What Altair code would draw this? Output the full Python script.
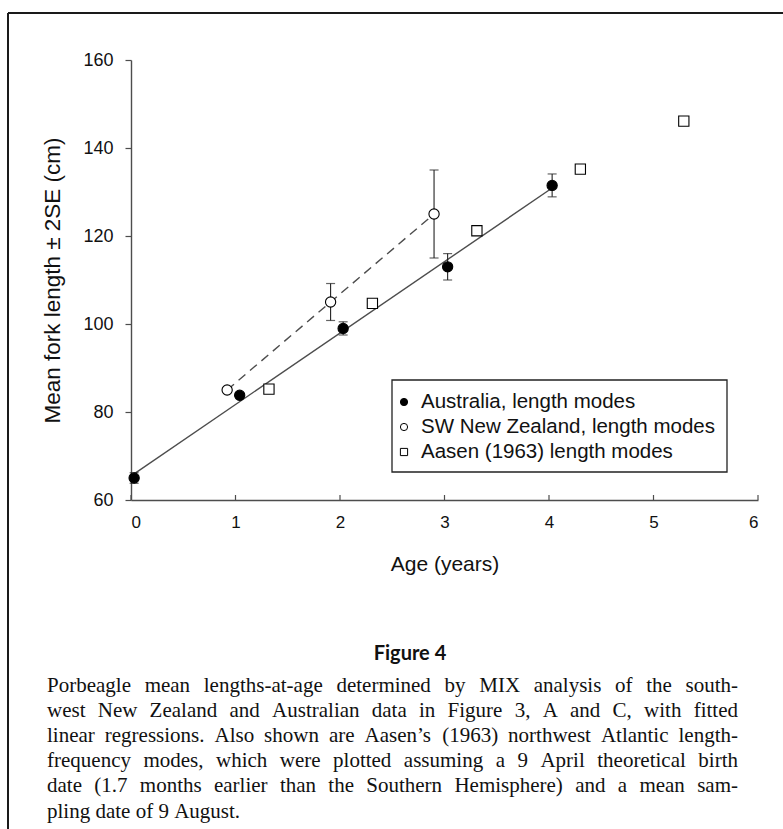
import altair as alt
import pandas as pd

# ---- data -------------------------------------------------------------
series_names = [
    "Australia, length modes",
    "SW New Zealand, length modes",
    "Aasen (1963) length modes",
]

# Australian length modes (MIX analysis), mean FL and 2SE
aus_age = [0.03, 1.04, 2.03, 3.03, 4.03]
aus_len = [65.0, 83.8, 99.0, 113.0, 131.5]
aus_2se = [1.2, 0.6, 1.5, 3.0, 2.6]

# SW New Zealand length modes
nz_age = [0.92, 1.91, 2.90]
nz_len = [85.0, 105.0, 125.0]
nz_2se = [0.0, 4.2, 10.0]

# Aasen (1963) northwest Atlantic length-frequency modes
aasen_age = [1.32, 2.31, 3.31, 4.30, 5.29]
aasen_len = [85.2, 104.7, 121.2, 135.2, 146.1]

x_ticks = [0, 1, 2, 3, 4, 5, 6]
y_ticks = [60, 80, 100, 120, 140, 160]

fig_label = "Figure 4"
caption_lines = [
    "Porbeagle mean lengths-at-age determined by MIX analysis of the south-",
    "west New Zealand and Australian data in Figure 3, A and C, with fitted",
    "linear regressions. Also shown are Aasen\u2019s (1963) northwest Atlantic length-",
    "frequency modes, which were plotted assuming a 9 April theoretical birth",
    "date (1.7 months earlier than the Southern Hemisphere) and a mean sam-",
    "pling date of 9 August.",
]

# ---- tables -----------------------------------------------------------
aus_df = pd.DataFrame({"age": aus_age, "length": aus_len, "se2": aus_2se,
                       "series": series_names[0]})
nz_df = pd.DataFrame({"age": nz_age, "length": nz_len, "se2": nz_2se,
                      "series": series_names[1]})
aasen_df = pd.DataFrame({"age": aasen_age, "length": aasen_len,
                         "series": series_names[2]})
points_df = pd.concat([aasen_df, nz_df, aus_df], ignore_index=True)

err_df = pd.concat([aus_df, nz_df], ignore_index=True)
err_df = err_df[err_df["se2"] > 0].copy()
err_df["lo"] = err_df["length"] - err_df["se2"]
err_df["hi"] = err_df["length"] + err_df["se2"]

tick_df = pd.DataFrame({"t": x_ticks})
legend_df = pd.DataFrame({"series": series_names})

# ---- layout -----------------------------------------------------------
W, H = 627, 440
PAD = {"left": 131, "top": 60, "right": 25, "bottom": 329}
SANS = "Liberation Sans"
SERIF = "Liberation Serif"
INK = "#111111"
LINE = "#4d4d4d"

xs = alt.Scale(domain=[0, 6], nice=False, zero=False)
ys = alt.Scale(domain=[60, 160], nice=False, zero=False)
shape_scale = alt.Scale(domain=series_names, range=["circle", "circle", "square"])
fill_scale = alt.Scale(domain=series_names, range=["black", "white", "white"])

x_axis = alt.Axis(values=x_ticks, format="d", tickSize=0, labelPadding=14,
                  grid=False, domainColor=LINE, domainWidth=1.4,
                  labelFont=SANS, labelFontSize=17, labelColor=INK,
                  title="Age (years)", titleFont=SANS, titleFontSize=21,
                  titleFontWeight="normal", titleColor=INK, titlePadding=23)
y_axis = alt.Axis(values=y_ticks, format="d", tickSize=6, tickColor=LINE,
                  tickWidth=1.2, labelPadding=12, grid=False,
                  domainColor=LINE, domainWidth=1.4, labelFont=SANS,
                  labelFontSize=18, labelColor=INK,
                  title="Mean fork length \u00b1 2SE (cm)",
                  titleFont=SANS, titleFontSize=22.5, titleFontWeight="normal",
                  titleColor=INK, titlePadding=18)

# fitted linear regressions
aus_fit = alt.Chart(aus_df).transform_regression("age", "length").mark_line(
    color=LINE, strokeWidth=1.4
).encode(x=alt.X("age:Q", scale=xs), y=alt.Y("length:Q", scale=ys))

nz_fit = alt.Chart(nz_df).transform_regression("age", "length").mark_line(
    color=LINE, strokeWidth=1.4, strokeDash=[9, 6]
).encode(x=alt.X("age:Q", scale=xs), y=alt.Y("length:Q", scale=ys))

# +/- 2SE error bars with caps
err_bars = alt.Chart(err_df).mark_rule(color="#222222", strokeWidth=1.1).encode(
    x=alt.X("age:Q", scale=xs), y=alt.Y("lo:Q", scale=ys), y2="hi:Q")
cap_lo = alt.Chart(err_df).mark_tick(color="#222222", thickness=1.2, size=9,
                                     orient="horizontal").encode(
    x=alt.X("age:Q", scale=xs), y=alt.Y("lo:Q", scale=ys))
cap_hi = alt.Chart(err_df).mark_tick(color="#222222", thickness=1.2, size=9,
                                     orient="horizontal").encode(
    x=alt.X("age:Q", scale=xs), y=alt.Y("hi:Q", scale=ys))

# x-axis ticks pointing into the plot
in_ticks = alt.Chart(tick_df).mark_rule(color=LINE, strokeWidth=1.2).encode(
    x=alt.X("t:Q", scale=xs), y=alt.value(H), y2=alt.value(H - 5))

points = alt.Chart(points_df).mark_point(filled=True, opacity=1, size=105,
                                         strokeWidth=1.1).encode(
    x=alt.X("age:Q", scale=xs, axis=x_axis),
    y=alt.Y("length:Q", scale=ys, axis=y_axis),
    shape=alt.Shape("series:N", scale=shape_scale, legend=None),
    fill=alt.Fill("series:N", scale=fill_scale, legend=None),
    stroke=alt.value("black"),
)

plot = alt.layer(aus_fit, nz_fit, err_bars, cap_lo, cap_hi, in_ticks, points)

# ---- legend box (drawn in pixel space) --------------------------------
LEG_X0, LEG_X1 = 392 - PAD["left"], 727 - PAD["left"]
LEG_Y0, LEG_Y1 = 380 - PAD["top"], 472 - PAD["top"]
leg_rows = alt.Scale(type="point", domain=series_names,
                     range=[402 - PAD["top"], 452 - PAD["top"]], padding=0)

leg_box = alt.Chart(pd.DataFrame({"k": [0]})).mark_rect(
    fill="white", stroke="#222222", strokeWidth=1.3
).encode(x=alt.value(LEG_X0), x2=alt.value(LEG_X1),
         y=alt.value(LEG_Y0), y2=alt.value(LEG_Y1))
leg_sym = alt.Chart(legend_df).mark_point(
    filled=True, opacity=1, size=52, strokeWidth=1.0
).encode(
    x=alt.value(404 - PAD["left"]),
    y=alt.Y("series:N", scale=leg_rows, axis=None),
    shape=alt.Shape("series:N", scale=shape_scale, legend=None),
    fill=alt.Fill("series:N", scale=fill_scale, legend=None),
    stroke=alt.value("black"),
)
leg_txt = alt.Chart(legend_df).mark_text(
    font=SANS, fontSize=20.5, align="left", baseline="middle", color=INK
).encode(
    x=alt.value(421 - PAD["left"]),
    y=alt.Y("series:N", scale=leg_rows, axis=None),
    text="series:N",
)

# ---- caption: justified serif text --------------------------------------
TIMES_W = {
    " ": 250, "!": 333, "(": 333, ")": 333, ",": 250, "-": 333, ".": 250,
    "\u2019": 333, "'": 180, ":": 278, ";": 278,
    "A": 722, "B": 667, "C": 667, "D": 722, "E": 611, "F": 556, "G": 722,
    "H": 722, "I": 333, "J": 389, "K": 722, "L": 611, "M": 889, "N": 722,
    "O": 722, "P": 556, "Q": 722, "R": 667, "S": 556, "T": 611, "U": 722,
    "V": 722, "W": 944, "X": 722, "Y": 722, "Z": 611,
    "a": 444, "b": 500, "c": 444, "d": 500, "e": 444, "f": 333, "g": 500,
    "h": 500, "i": 278, "j": 278, "k": 500, "l": 278, "m": 778, "n": 500,
    "o": 500, "p": 500, "q": 500, "r": 333, "s": 389, "t": 278, "u": 500,
    "v": 500, "w": 722, "x": 500, "y": 500, "z": 444,
}


def em_width(s):
    return sum(TIMES_W.get(c, 500) for c in s) / 1000.0


CAP_LEFT, CAP_RIGHT = 47 - PAD["left"], 738 - PAD["left"]
CAP_TOP, CAP_STEP, CAP_FS = 686 - PAD["top"], 25.1, 21.0
words = []
for i, line in enumerate(caption_lines):
    toks = line.split(" ")
    ems = [em_width(t) for t in toks]
    gaps = len(toks) - 1
    fs = CAP_FS
    last = i == len(caption_lines) - 1
    if not last:
        fit = (CAP_RIGHT - CAP_LEFT) / (sum(ems) + 0.16 * gaps)
        fs = min(CAP_FS, fit)
        gap = (CAP_RIGHT - CAP_LEFT - sum(ems) * fs) / gaps
    else:
        gap = 0.25 * fs
    x = CAP_LEFT
    for t, e in zip(toks, ems):
        words.append({"w": t, "px": x, "py": CAP_TOP + i * CAP_STEP, "fs": fs})
        x += e * fs + gap
words_df = pd.DataFrame(words)

caption = alt.Chart(words_df).mark_text(
    font=SERIF, align="left", baseline="middle", color=INK
).encode(
    x=alt.X("px:Q", scale=None, axis=None),
    y=alt.Y("py:Q", scale=None, axis=None),
    text="w:N",
    size=alt.Size("fs:Q", scale=None, legend=None),
)

one = pd.DataFrame({"k": [0]})
fig_title = alt.Chart(one).mark_text(
    text=fig_label, font="Lato", fontWeight="bold", fontSize=20,
    align="center", baseline="middle", color=INK
).encode(x=alt.value(410 - PAD["left"]), y=alt.value(654 - PAD["top"]))

frame_top = alt.Chart(one).mark_rule(color="#1a1a1a", strokeWidth=2).encode(
    x=alt.value(8 - PAD["left"]), x2=alt.value(783 - PAD["left"]),
    y=alt.value(13 - PAD["top"]))
frame_left = alt.Chart(one).mark_rule(color="#1a1a1a", strokeWidth=2).encode(
    x=alt.value(8 - PAD["left"]), y=alt.value(13 - PAD["top"]),
    y2=alt.value(829 - PAD["top"]))

deco = alt.layer(frame_top, frame_left, fig_title, caption,
                 leg_box, leg_sym, leg_txt)

chart = alt.layer(plot, deco).resolve_scale(
    x="independent", y="independent"
).properties(
    width=W, height=H, padding=PAD, autosize=alt.AutoSizeParams(type="none"),
    background="white",
).configure_view(stroke=None)

chart.save("out.html", embed_options={"renderer": "svg", "actions": False})
